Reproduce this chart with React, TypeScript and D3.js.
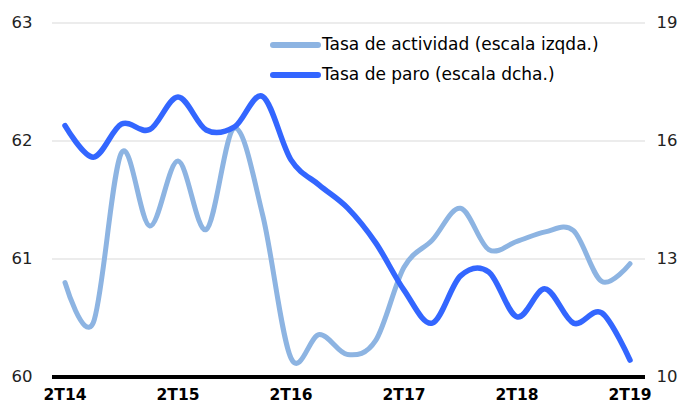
import { useEffect, useRef } from 'react'
import * as d3 from 'd3'

// trimestres 2T14 .. 2T19
const quarters = [
  '2T14', '3T14', '4T14', '1T15', '2T15', '3T15', '4T15', '1T16', '2T16', '3T16', '4T16',
  '1T17', '2T17', '3T17', '4T17', '1T18', '2T18', '3T18', '4T18', '1T19', '2T19',
]
const tasaActividad = [
  60.8, 60.46, 61.9, 61.28, 61.83, 61.25, 62.11, 61.37, 60.16, 60.36, 60.19,
  60.31, 60.93, 61.16, 61.43, 61.08, 61.15, 61.23, 61.24, 60.81, 60.96,
]
const tasaParo = [
  16.39, 15.59, 16.43, 16.29, 17.12, 16.28, 16.36, 17.13, 15.52, 14.88, 14.3,
  13.41, 12.21, 11.37, 12.57, 12.67, 11.53, 12.24, 11.37, 11.63, 10.43,
]
const leftTicks = [60, 61, 62, 63]
const rightTicks = [10, 13, 16, 19]
const xLabels = ['2T14', '2T15', '2T16', '2T17', '2T18', '2T19']

const W = 684
const H = 405
const PLOT = { left: 52, right: 645, top: 23, bottom: 377 }
const FONT = '"DejaVu Sans", Verdana, sans-serif'
const LIGHT = '#8db4e2'
const DARK = '#3366ff'

export default function App() {
  const svgRef = useRef<SVGSVGElement>(null)

  useEffect(() => {
    if (!svgRef.current) return
    const svg = d3.select(svgRef.current)
    svg.selectAll('*').remove()

    const x = d3.scalePoint<string>().domain(quarters).range([65, 630])
    const yL = d3.scaleLinear().domain([60, 63]).range([PLOT.bottom, PLOT.top])
    const yR = d3.scaleLinear().domain([10, 19]).range([PLOT.bottom, PLOT.top])

    // ── Grid ──
    svg.append('g').selectAll('line').data(leftTicks.slice(1)).join('line')
      .attr('x1', PLOT.left).attr('x2', PLOT.right)
      .attr('y1', (d) => yL(d)).attr('y2', (d) => yL(d))
      .attr('stroke', '#d9d9d9').attr('stroke-width', 1)

    // ── Ejes Y ──
    svg.append('g').selectAll('text').data(leftTicks).join('text')
      .attr('x', 22).attr('y', (d) => yL(d))
      .attr('text-anchor', 'middle').attr('dominant-baseline', 'middle')
      .attr('font-family', FONT).attr('font-size', 16.5).attr('fill', '#222')
      .text((d) => d)
    svg.append('g').selectAll('text').data(rightTicks).join('text')
      .attr('x', 667).attr('y', (d) => yR(d))
      .attr('text-anchor', 'middle').attr('dominant-baseline', 'middle')
      .attr('font-family', FONT).attr('font-size', 16.5).attr('fill', '#222')
      .text((d) => d)

    // ── Líneas ──
    const curve = d3.curveCardinal.tension(0)
    const lineL = d3.line<number>().x((_, i) => x(quarters[i])!).y((d) => yL(d)).curve(curve)
    const lineR = d3.line<number>().x((_, i) => x(quarters[i])!).y((d) => yR(d)).curve(curve)

    svg.append('path').datum(tasaActividad).attr('d', lineL)
      .attr('fill', 'none').attr('stroke', LIGHT).attr('stroke-width', 5)
      .attr('stroke-linecap', 'round').attr('stroke-linejoin', 'round')
    svg.append('path').datum(tasaParo).attr('d', lineR)
      .attr('fill', 'none').attr('stroke', DARK).attr('stroke-width', 5.5)
      .attr('stroke-linecap', 'round').attr('stroke-linejoin', 'round')

    // ── Eje X ──
    svg.append('line')
      .attr('x1', PLOT.left).attr('x2', PLOT.right)
      .attr('y1', PLOT.bottom).attr('y2', PLOT.bottom)
      .attr('stroke', '#000').attr('stroke-width', 4)
    svg.append('g').selectAll('text').data(xLabels).join('text')
      .attr('x', (d) => x(d)!).attr('y', 400)
      .attr('text-anchor', 'middle')
      .attr('font-family', FONT).attr('font-size', 15.5).attr('font-weight', 'bold').attr('fill', '#000')
      .text((d) => d)

    // ── Leyenda ──
    const legend = [
      { label: 'Tasa de actividad (escala izqda.)', color: LIGHT, y: 45 },
      { label: 'Tasa de paro (escala dcha.)', color: DARK, y: 75 },
    ]
    const lg = svg.append('g').selectAll('g').data(legend).join('g')
    lg.append('line')
      .attr('x1', 273).attr('x2', 318).attr('y1', (d) => d.y).attr('y2', (d) => d.y)
      .attr('stroke', (d) => d.color).attr('stroke-width', 6).attr('stroke-linecap', 'round')
    lg.append('text')
      .attr('x', 322).attr('y', (d) => d.y).attr('dominant-baseline', 'middle')
      .attr('font-family', FONT).attr('font-size', 17).attr('fill', '#000')
      .text((d) => d.label)
  }, [])

  return (
    <svg ref={svgRef} width={W} height={H}
      style={{ display: 'block', position: 'absolute', left: 0, top: 0, background: '#fff' }} />
  )
}
